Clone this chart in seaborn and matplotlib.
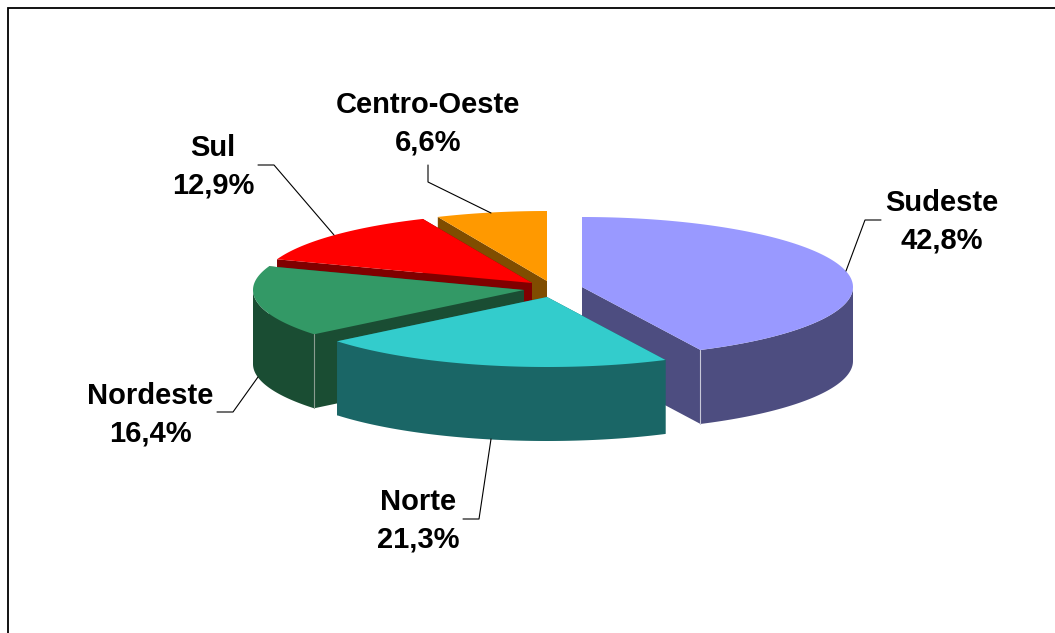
import numpy as np
import seaborn as sns
import matplotlib.pyplot as plt

# Data
regions = ['Sudeste', 'Norte', 'Nordeste', 'Sul', 'Centro-Oeste']
shares = [42.8, 21.3, 16.4, 12.9, 6.6]

# Look
top_colors = ['#9999FF', '#33CCCC', '#339966', '#FF0000', '#FF9900']
side_colors = ['#4D4D80', '#1A6666', '#1A4D33', '#800000', '#804D00']
centers = [(582, 287), (547, 297), (524, 290), (532, 283), (547, 281)]
label_pos = [(942, 222), (418, 521), (150, 415), (213, 167), (428, 124)]
leaders = [
    [(881, 220), (865, 220), (846, 271)],
    [(463, 519), (479, 519), (491, 439)],
    [(217, 412), (233, 412), (258, 377)],
    [(258, 165), (274, 165), (334, 235)],
    [(428, 165), (428, 182), (491, 213)],
]
rx, ry, depth = 271, 70, 74
draw_order = [4, 3, 2, 0, 1]  # back to front

sns.set_theme(style='white')
plt.rcParams['font.family'] = ['Liberation Sans', 'DejaVu Sans']

fig, ax = plt.subplots(figsize=(10.55, 6.33), dpi=100)
ax.set_position([0, 0, 1, 1])
ax.set_xlim(0, 1055)
ax.set_ylim(633, 0)
ax.axis('off')

# Outer frame, open at the right and bottom
ax.plot([8, 8, 1055], [633, 8, 8], color='black', lw=1.3, solid_joinstyle='miter')

for pts in leaders:
    xs, ys = zip(*pts)
    ax.plot(xs, ys, color='black', lw=0.8)


def arc(center, a0, a1):
    # angles in degrees, clockwise from 12 o'clock
    t = np.radians(np.linspace(a0, a1, 120))
    return center[0] + rx * np.sin(t), center[1] - ry * np.cos(t)


edges = np.concatenate([[0], np.cumsum(shares)]) * 3.6

for i in draw_order:
    c = centers[i]
    a0, a1 = edges[i], edges[i + 1]
    xa, ya = arc(c, a0, a1)

    # cut faces
    for k in (0, -1):
        ax.fill([c[0], xa[k], xa[k], c[0]],
                [c[1], ya[k], ya[k] + depth, c[1] + depth],
                color=side_colors[i], lw=0)
    # outer wall, only the part facing the viewer
    w0, w1 = max(a0, 90), min(a1, 270)
    if w0 < w1:
        xw, yw = arc(c, w0, w1)
        ax.fill(np.r_[xw, xw[::-1]], np.r_[yw, yw[::-1] + depth],
                color=side_colors[i], lw=0)
    # top
    ax.fill(np.r_[c[0], xa], np.r_[c[1], ya], color=top_colors[i], lw=0)

    # light line on the visible corner between cut face and wall
    if regions[i] == 'Sudeste':
        ax.plot([xa[-1]] * 2, [ya[-1], ya[-1] + depth], color='#C8C8D8', lw=0.8)
    if regions[i] == 'Nordeste':
        ax.plot([xa[0]] * 2, [ya[0], ya[0] + depth], color='#8A9C90', lw=0.8)

for name, val, (x, y) in zip(regions, shares, label_pos):
    label = f'{val:.1f}%'.replace('.', ',')
    ax.text(x, y, f'{name}\n{label}', ha='center', va='center', fontsize=21,
            fontweight='bold', color='black', linespacing=1.42)

plt.savefig('out.png', dpi=100)
